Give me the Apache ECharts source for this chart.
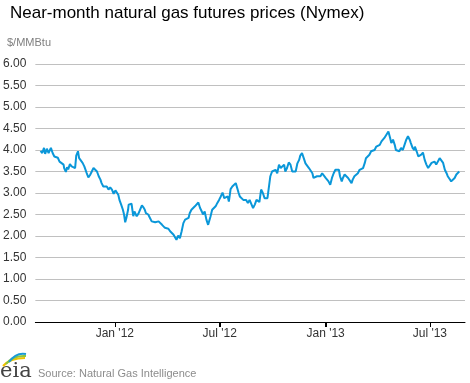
<!DOCTYPE html>
<html>
<head>
<meta charset="utf-8">
<script src="https://cdn.jsdelivr.net/npm/echarts@6/dist/echarts.min.js"></script>
<style>
html,body{margin:0;padding:0;background:#fff;}
#chart{width:470px;height:383px;}
</style>
</head>
<body>
<div id="chart"></div>
<script>
// Near-month natural gas futures prices ($/MMBtu)
const dates = [
 '2011-08-25','2011-08-28','2011-08-31','2011-09-02','2011-09-05','2011-09-08','2011-09-12','2011-09-15','2011-09-18','2011-09-21',
 '2011-09-24','2011-09-27','2011-09-30','2011-10-04','2011-10-05','2011-10-08','2011-10-10','2011-10-12','2011-10-15','2011-10-18',
 '2011-10-21','2011-10-24','2011-10-26','2011-10-29','2011-10-31','2011-11-03','2011-11-06','2011-11-09','2011-11-13','2011-11-16',
 '2011-11-19','2011-11-22','2011-11-25','2011-11-28','2011-12-01','2011-12-04','2011-12-07','2011-12-09','2011-12-12','2011-12-15',
 '2011-12-18','2011-12-21','2011-12-24','2011-12-27','2011-12-30',
 '2012-01-02','2012-01-05','2012-01-07','2012-01-09','2012-01-12','2012-01-15','2012-01-17','2012-01-19','2012-01-21','2012-01-24',
 '2012-01-25','2012-01-28','2012-01-30','2012-02-02','2012-02-04','2012-02-06','2012-02-08','2012-02-11','2012-02-14','2012-02-17',
 '2012-02-20','2012-02-22','2012-02-24','2012-02-28','2012-03-02','2012-03-05','2012-03-08','2012-03-11','2012-03-14','2012-03-17',
 '2012-03-20','2012-03-23','2012-03-26','2012-03-28','2012-03-31','2012-04-03','2012-04-06','2012-04-09','2012-04-12','2012-04-14',
 '2012-04-17','2012-04-20','2012-04-23','2012-04-26','2012-04-29','2012-05-02','2012-05-05','2012-05-08','2012-05-10','2012-05-13',
 '2012-05-16','2012-05-19','2012-05-22','2012-05-25','2012-05-28','2012-05-31','2012-06-02','2012-06-05','2012-06-08','2012-06-11',
 '2012-06-14','2012-06-15','2012-06-18','2012-06-21','2012-06-24','2012-06-27','2012-06-30','2012-07-03','2012-07-06','2012-07-09',
 '2012-07-12','2012-07-15','2012-07-17','2012-07-20','2012-07-23','2012-07-26','2012-07-29','2012-07-31','2012-08-03','2012-08-05',
 '2012-08-08','2012-08-11','2012-08-13','2012-08-16','2012-08-19','2012-08-22','2012-08-25','2012-08-28','2012-08-31','2012-09-03',
 '2012-09-06','2012-09-08','2012-09-11','2012-09-14','2012-09-17','2012-09-20','2012-09-22','2012-09-25','2012-09-27','2012-09-30',
 '2012-10-03','2012-10-06','2012-10-09','2012-10-12','2012-10-15','2012-10-18','2012-10-21','2012-10-23','2012-10-26','2012-10-29',
 '2012-11-01','2012-11-04','2012-11-07','2012-11-10','2012-11-13','2012-11-16','2012-11-18','2012-11-21','2012-11-24','2012-11-27',
 '2012-11-30','2012-12-03','2012-12-06','2012-12-09','2012-12-11','2012-12-14','2012-12-17','2012-12-20','2012-12-23','2012-12-26',
 '2012-12-29','2013-01-01','2013-01-03','2013-01-06','2013-01-09','2013-01-12','2013-01-15','2013-01-18','2013-01-21','2013-01-24',
 '2013-01-26','2013-01-29','2013-01-31','2013-02-03','2013-02-06','2013-02-09','2013-02-12','2013-02-15','2013-02-17','2013-02-20',
 '2013-02-23','2013-02-26','2013-03-01','2013-03-04','2013-03-07','2013-03-10','2013-03-12','2013-03-15','2013-03-18','2013-03-21',
 '2013-03-24','2013-03-27','2013-03-30','2013-04-02','2013-04-05','2013-04-08','2013-04-10','2013-04-13','2013-04-16','2013-04-20',
 '2013-04-23','2013-04-25','2013-04-28','2013-05-01','2013-05-03','2013-05-06','2013-05-09','2013-05-12','2013-05-15','2013-05-18',
 '2013-05-21','2013-05-24','2013-05-27','2013-05-29','2013-06-01','2013-06-04','2013-06-05','2013-06-08','2013-06-11','2013-06-13',
 '2013-06-16','2013-06-19','2013-06-22','2013-06-25','2013-06-28','2013-07-01','2013-07-04','2013-07-06','2013-07-09','2013-07-12',
 '2013-07-15','2013-07-18','2013-07-21','2013-07-24','2013-07-27','2013-07-30','2013-08-01','2013-08-04','2013-08-07','2013-08-10',
 '2013-08-13','2013-08-16','2013-08-19','2013-08-21'
];
const prices = [
 3.98,3.93,4.05,3.91,4.03,3.93,4.05,3.93,3.85,3.81,
 3.82,3.73,3.77,3.66,3.58,3.49,3.60,3.55,3.67,3.62,
 3.64,3.58,3.87,3.97,3.81,3.77,3.70,3.62,3.47,3.36,
 3.42,3.50,3.58,3.62,3.50,3.39,3.31,3.23,3.15,3.13,
 3.15,3.08,3.13,3.08,2.98,
 3.06,3.04,2.96,2.84,2.73,2.61,2.50,2.32,2.42,2.61,
 2.73,2.71,2.75,2.46,2.57,2.53,2.46,2.52,2.48,2.71,
 2.66,2.61,2.53,2.50,2.42,2.34,2.30,2.32,2.30,2.34,
 2.38,2.26,2.22,2.19,2.15,2.17,2.11,2.09,2.03,1.99,
 1.91,2.01,1.95,2.11,2.30,2.38,2.34,2.42,2.53,2.61,
 2.57,2.69,2.65,2.78,2.65,2.57,2.50,2.57,2.38,2.26,
 2.22,2.45,2.61,2.57,2.69,2.77,2.84,2.92,3.01,2.88,
 2.86,2.92,2.80,3.09,3.15,3.12,3.23,3.19,3.00,2.92,
 2.96,2.84,2.81,2.84,2.77,2.84,2.81,2.65,2.73,2.84,
 2.88,2.79,3.08,3.00,2.88,2.84,2.88,2.92,3.39,3.50,
 3.46,3.54,3.46,3.66,3.58,3.54,3.66,3.50,3.58,3.71,
 3.66,3.50,3.54,3.50,3.69,3.77,3.87,3.93,3.81,3.69,
 3.73,3.58,3.54,3.46,3.35,3.31,3.39,3.43,3.39,3.46,
 3.43,3.35,3.33,3.27,3.19,3.35,3.46,3.54,3.58,3.54,
 3.39,3.27,3.35,3.43,3.46,3.35,3.31,3.23,3.31,3.39,
 3.43,3.46,3.54,3.50,3.58,3.70,3.81,3.79,3.89,3.97,
 3.93,4.00,4.08,4.05,4.12,4.20,4.16,4.28,4.24,4.43,
 4.28,4.16,4.24,4.12,4.00,4.00,3.97,4.05,4.00,4.12,
 4.24,4.32,4.24,4.16,4.05,4.00,4.08,3.97,3.85,3.81,
 3.89,3.94,3.77,3.66,3.58,3.62,3.70,3.66,3.73,3.66,
 3.70,3.81,3.85,3.70,3.54,3.46,3.39,3.33,3.27,3.25,
 3.35,3.43,3.46,3.50
];
const xTickDates = ['2012-01-01','2012-07-01','2013-01-01','2013-07-01'];
const xTickLabels = ["Jan '12","Jul '12","Jan '13","Jul '13"];
const xRange = ['2011-08-16','2013-08-31'];
const yTicks = [0,0.5,1,1.5,2,2.5,3,3.5,4,4.5,5,5.5,6];

const toTs = s => { const p = s.split('-').map(Number); return Date.UTC(p[0], p[1]-1, p[2]); };
const tickTs = xTickDates.map(toTs);
const labelMap = {};
tickTs.forEach((t,i)=>{labelMap[t]=xTickLabels[i];});

const chart = echarts.init(document.getElementById('chart'), null, {renderer:'canvas'});
const FONT = 'Liberation Sans, Arial, sans-serif';
chart.setOption({
  animation:false,
  backgroundColor:'#ffffff',
  title:{
    text:'Near-month natural gas futures prices (Nymex)',
    left:5, top:0,
    textStyle:{fontFamily:FONT,fontSize:17,fontWeight:'normal',color:'#000'}
  },
  graphic:[
    {type:'text',left:7,top:37,style:{text:'$/MMBtu',font:'11px '+FONT,fill:'#7f7f7f'}},
    {type:'text',left:38,top:368,style:{text:'Source: Natural Gas Intelligence',font:'11px '+FONT,fill:'#8c8c8c'}},
    {type:'text',left:0,top:361,style:{text:'eia',font:'21px DejaVu Serif, serif',fill:'#444'}},
    {type:'bezierCurve',shape:{x1:3,y1:366,x2:25,y2:358,cpx1:10,cpy1:358},style:{stroke:'#f2c200',lineWidth:2,fill:null}},
    {type:'bezierCurve',shape:{x1:6,y1:364,x2:26,y2:356,cpx1:13,cpy1:355},style:{stroke:'#8cc63f',lineWidth:2,fill:null}},
    {type:'bezierCurve',shape:{x1:9,y1:362,x2:26,y2:354,cpx1:16,cpy1:352},style:{stroke:'#1a9ad6',lineWidth:2,fill:null}}
  ],
  grid:{left:34,right:5,top:64,bottom:61,containLabel:false},
  xAxis:{
    type:'value',
    min:toTs(xRange[0]), max:toTs(xRange[1]),
    axisLine:{show:true,onZero:false,lineStyle:{color:'#000',width:1}},
    axisTick:{show:true,customValues:tickTs,interval:0,length:5,inside:false,lineStyle:{color:'#000',width:1}},
    axisLabel:{show:true,customValues:tickTs,interval:0,formatter:v=>labelMap[v]||'',
      fontFamily:FONT,fontSize:12,color:'#333',margin:6,hideOverlap:false},
    splitLine:{show:false}
  },
  yAxis:{
    type:'value',min:yTicks[0],max:yTicks[yTicks.length-1],interval:0.5,
    axisLine:{show:false},axisTick:{show:false},
    axisLabel:{formatter:v=>v.toFixed(2),fontFamily:FONT,fontSize:12,color:'#333',margin:9},
    splitLine:{show:true,lineStyle:{color:'#c0c0c0',width:1}}
  },
  series:[{
    type:'line',
    data:dates.map((d,i)=>[toTs(d),prices[i]]),
    showSymbol:false,symbol:'none',
    lineStyle:{color:'#0a97d9',width:2},
    z:3
  },{
    type:'custom',
    clip:false,
    silent:true,
    data:tickTs.map(t=>[t,yTicks[0]]),
    renderItem:(params,api)=>{
      const p = api.coord([api.value(0), api.value(1)]);
      const x = Math.round(p[0]) + 0.5;
      return {type:'line',shape:{x1:x,y1:p[1],x2:x,y2:p[1]+5},style:{stroke:'#000',lineWidth:1}};
    },
    z:4
  }]
});
</script>
</body>
</html>
